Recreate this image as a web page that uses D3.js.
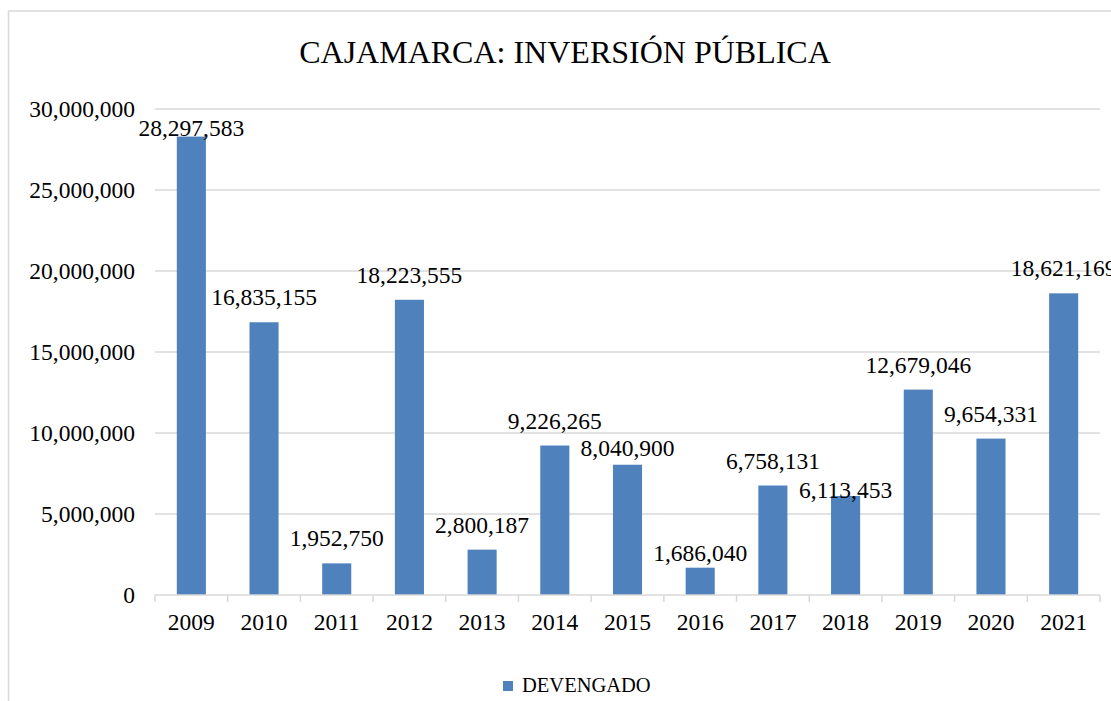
<!DOCTYPE html>
<html>
<head>
<meta charset="utf-8">
<script src="https://cdn.jsdelivr.net/npm/d3@7"></script>
<style>
  body { margin: 0; background: #fff; }
  text { font-family: "Liberation Serif", "Times New Roman", serif; fill: #000; }
</style>
</head>
<body>
<svg id="chart" width="1111" height="701"></svg>
<script>
var years = ["2009", "2010", "2011", "2012", "2013", "2014", "2015", "2016", "2017", "2018", "2019", "2020", "2021"];
var devengado = [28297583, 16835155, 1952750, 18223555, 2800187, 9226265, 8040900, 1686040, 6758131, 6113453, 12679046, 9654331, 18621169];
var yTicks = [0, 5000000, 10000000, 15000000, 20000000, 25000000, 30000000];
var seriesName = "DEVENGADO";
var title = "CAJAMARCA: INVERSIÓN PÚBLICA";
// labels that were dragged closer to their bar in the original
var labelDrop = [16, 0, 0, 0, 0, 0, 8, 10, 0, 19, 0, 0, 0];

var plotLeft = 155, plotRight = 1100, plotTop = 109, plotBottom = 595;
var barColor = "#4F81BD", gridColor = "#d9d9d9";

var svg = d3.select("#chart");

svg.append("rect")
  .attr("x", 8.5).attr("y", 11)
  .attr("width", 1300).attr("height", 900)
  .attr("fill", "#fff")
  .attr("stroke", gridColor)
  .attr("stroke-width", 1.5);

var x = d3.scaleBand()
  .domain(years)
  .range([plotLeft, plotRight])
  .paddingInner(0.6)
  .paddingOuter(0.3);

var y = d3.scaleLinear()
  .domain([0, 30000000])
  .range([plotBottom, plotTop]);

var fmt = d3.format(",");

// gridlines
svg.append("g")
  .selectAll("line")
  .data(yTicks.slice(1))
  .enter().append("line")
  .attr("x1", plotLeft).attr("x2", plotRight)
  .attr("y1", function(d){ return y(d); })
  .attr("y2", function(d){ return y(d); })
  .attr("stroke", gridColor)
  .attr("stroke-width", 1.3);

// y axis labels
var yAxis = d3.axisLeft(y).tickValues(yTicks).tickFormat(fmt).tickSize(0).tickPadding(20);
var yG = svg.append("g")
  .attr("transform", "translate(" + plotLeft + ",0)")
  .call(yAxis);
yG.select(".domain").remove();
yG.selectAll("text")
  .style("font-family", "Liberation Serif, serif")
  .style("font-size", "23.5px")
  .attr("fill", "#000");

// bars
svg.append("g")
  .selectAll("rect")
  .data(devengado)
  .enter().append("rect")
  .attr("x", function(d, i){ return x(years[i]); })
  .attr("y", function(d){ return y(d); })
  .attr("width", x.bandwidth())
  .attr("height", function(d){ return plotBottom - y(d); })
  .attr("fill", barColor);

// x axis
var step = x.step();
var xAxisG = svg.append("g");
xAxisG.append("line")
  .attr("x1", plotLeft).attr("x2", plotRight)
  .attr("y1", plotBottom).attr("y2", plotBottom)
  .attr("stroke", gridColor)
  .attr("stroke-width", 1.5);
xAxisG.selectAll("line.tick")
  .data(d3.range(years.length + 1))
  .enter().append("line")
  .attr("class", "tick")
  .attr("x1", function(i){ return plotLeft + i * step; })
  .attr("x2", function(i){ return plotLeft + i * step; })
  .attr("y1", plotBottom).attr("y2", plotBottom + 7)
  .attr("stroke", gridColor)
  .attr("stroke-width", 1.5);
xAxisG.selectAll("text")
  .data(years)
  .enter().append("text")
  .attr("x", function(d){ return x(d) + x.bandwidth() / 2; })
  .attr("y", plotBottom + 35)
  .attr("text-anchor", "middle")
  .style("font-size", "23.5px")
  .text(function(d){ return d; });

// data labels
svg.append("g")
  .selectAll("text")
  .data(devengado)
  .enter().append("text")
  .attr("x", function(d, i){ return x(years[i]) + x.bandwidth() / 2; })
  .attr("y", function(d, i){ return y(d) - 17 + labelDrop[i]; })
  .attr("text-anchor", "middle")
  .style("font-size", "23.5px")
  .text(function(d){ return fmt(d); });

// title
svg.append("text")
  .attr("x", 565).attr("y", 63)
  .attr("text-anchor", "middle")
  .style("font-size", "32px")
  .text(title);

// legend
var legend = svg.append("g").attr("transform", "translate(503,681)");
legend.append("rect")
  .attr("width", 10).attr("height", 10)
  .attr("fill", barColor);
legend.append("text")
  .attr("x", 19).attr("y", 11)
  .style("font-size", "20.5px")
  .text(seriesName);
</script>
</body>
</html>
